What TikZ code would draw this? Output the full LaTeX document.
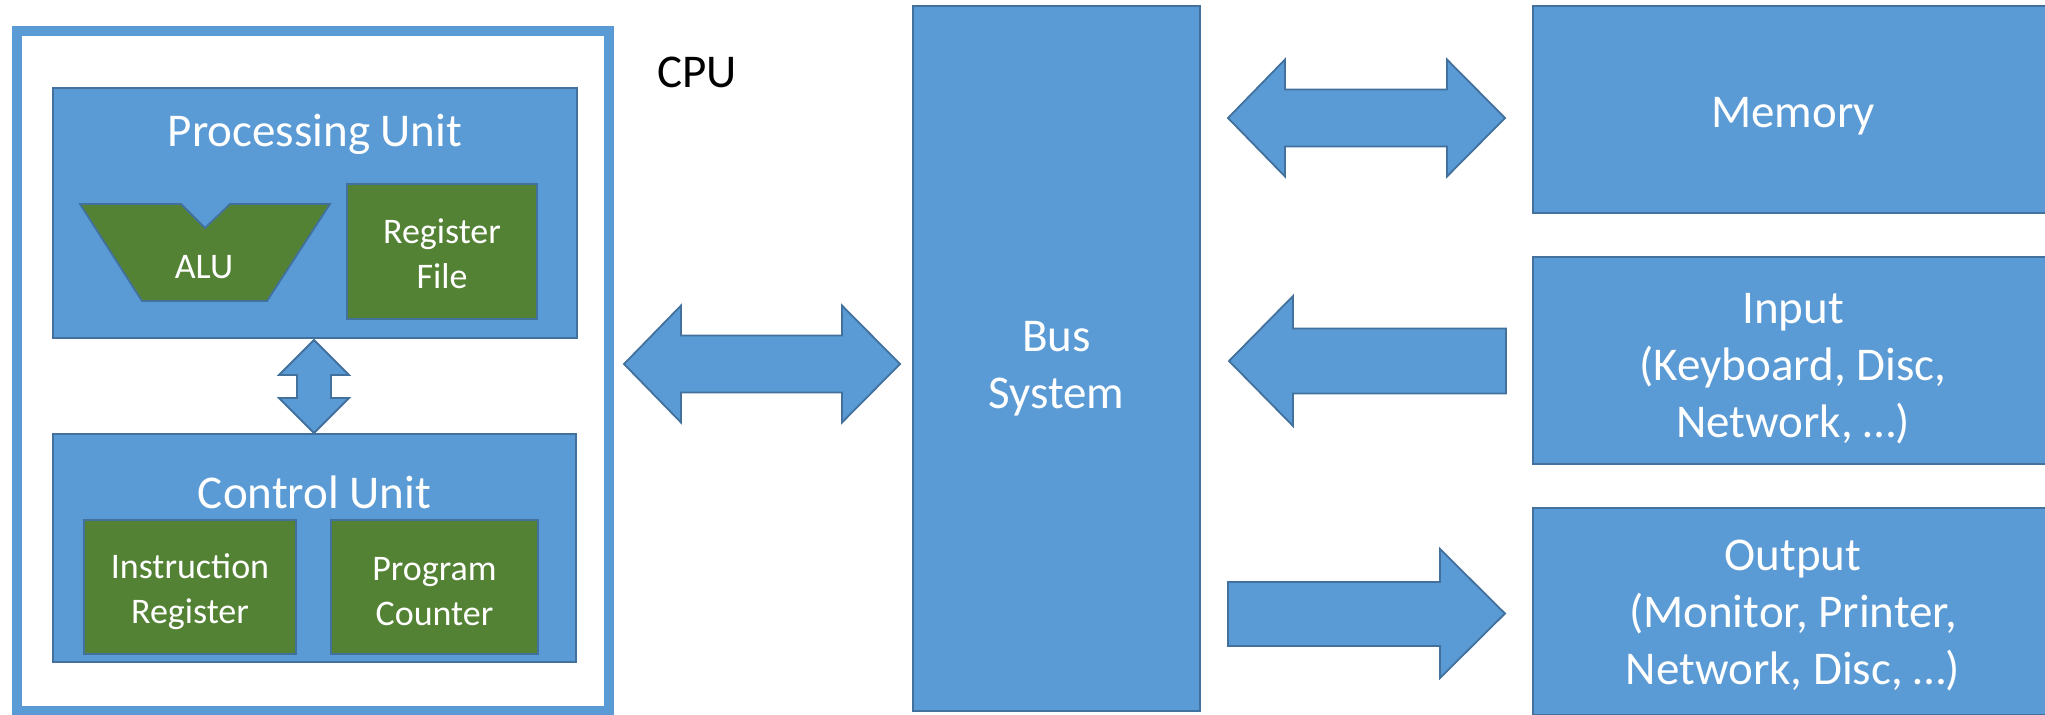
\documentclass[tikz,border=0pt]{standalone}
\usepackage{fontspec}
\setmainfont{Carlito}
\definecolor{boxblue}{HTML}{5B9BD5}
\definecolor{bord}{HTML}{41719C}
\definecolor{boxgreen}{HTML}{548235}
\tikzset{
  bigfont/.style={font=\fontsize{23.5}{28.5}\selectfont},
  smallfont/.style={font=\fontsize{18}{22.5}\selectfont},
  bluebox/.style={draw=bord, line width=0.9pt, fill=boxblue, inner sep=0pt},
  greenbox/.style={draw=bord, line width=0.9pt, fill=boxgreen, inner sep=0pt},
  bigtext/.style={text=white, align=center, inner sep=0pt, bigfont},
  smalltext/.style={text=white, align=center, inner sep=0pt, smallfont},
  blockarrow/.style={draw=bord, line width=0.9pt, fill=boxblue},
  whitelabel/.style={text=white, inner sep=0pt, anchor=base}
}
\begin{document}
\begin{tikzpicture}[x=0.5pt, y=-0.5pt]
\useasboundingbox[fill=white] (0,0) rectangle (2045,714);
% CPU frame
\draw[boxblue, line width=5pt] (17,31) rectangle (609,710.5);
\node[bigfont, inner sep=0pt, anchor=base] (cpu) at (697,87) {CPU};
% Processing unit
\node[bluebox, minimum width=262pt, minimum height=125pt] (pu) at (315,213) {};
\node[whitelabel, bigfont] (putitle) at (315,146) {Processing Unit};
\draw[draw=bord, line width=0.9pt, fill=boxgreen] (80,204) -- (181,204) -- (205,228) -- (230,204) -- (330,204) -- (267,301) -- (142,301) -- cycle;
\node[whitelabel, smallfont] (alu) at (204,278) {ALU};
\node[greenbox, minimum width=95pt, minimum height=67.5pt] (rf) at (442,251.5) {};
\node[smalltext] (rftxt) at ([yshift=-1pt]rf.center) {Register\\File};
% vertical double arrow
\draw[blockarrow] (314,340) -- (349,375) -- (331,375) -- (331,398) -- (349,398) -- (314,433) -- (279,398) -- (297,398) -- (297,375) -- (279,375) -- cycle;
% Control unit
\node[bluebox, minimum width=261.5pt, minimum height=114pt] (cu) at (314.5,548) {};
\node[whitelabel, bigfont] (cutitle) at (314.5,508) {Control Unit};
\node[greenbox, minimum width=106pt, minimum height=67pt] (ir) at (190,587) {};
\node[smalltext] (irtxt) at ([yshift=-2.5pt]ir.center) {Instruction\\Register};
\node[greenbox, minimum width=103.5pt, minimum height=67pt] (pc) at (434.5,587) {};
\node[smalltext] (pctxt) at ([yshift=-2.5pt]pc.center) {Program\\Counter};
% Bus
\node[bluebox, minimum width=143.5pt, minimum height=352.5pt] (bus) at (1056.5,358.5) {};
\node[bigtext] (bustxt) at ([yshift=-5pt]bus.center) {Bus\\System};
% CPU <-> Bus
\draw[blockarrow] (624,364) -- (681,305.5) -- (681,335.5) -- (842,335.5) -- (842,305.5) -- (900,364) -- (842,422.5) -- (842,392.5) -- (681,392.5) -- (681,422.5) -- cycle;
% Right boxes
\node[bluebox, minimum width=260pt, minimum height=103.5pt] (mem) at (1793,109.5) {};
\node[bigtext] (memtxt) at ([yshift=-3.5pt]mem.center) {Memory};
\node[bluebox, minimum width=260pt, minimum height=103.5pt] (inp) at (1793,360.5) {};
\node[bigtext] (inptxt) at ([yshift=-4pt]inp.center) {Input\\(Keyboard, Disc,\\Network, …)};
\node[bluebox, minimum width=260pt, minimum height=103.5pt] (outp) at (1793,611.5) {};
\node[bigtext] (outptxt) at ([yshift=-2pt]outp.center) {Output\\(Monitor, Printer,\\Network, Disc, …)};
% Memory double arrow
\draw[blockarrow] (1228,118) -- (1285,59.5) -- (1285,89.5) -- (1447,89.5) -- (1447,59.5) -- (1505,118) -- (1447,176.5) -- (1447,146.5) -- (1285,146.5) -- (1285,176.5) -- cycle;
% Input arrow (to bus)
\draw[blockarrow] (1229,361) -- (1293,296) -- (1293,328.5) -- (1506,328.5) -- (1506,393.5) -- (1293,393.5) -- (1293,426) -- cycle;
% Output arrow (from bus)
\draw[blockarrow] (1228,582) -- (1440,582) -- (1440,549) -- (1505,613.5) -- (1440,678) -- (1440,646) -- (1228,646) -- cycle;
\end{tikzpicture}
\end{document}
